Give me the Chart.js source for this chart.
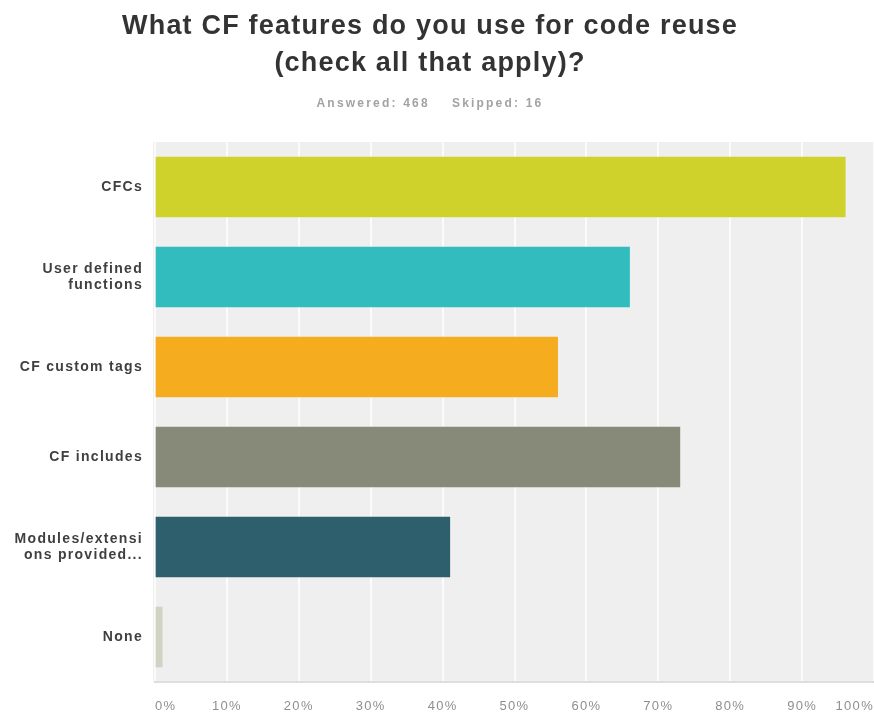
<!DOCTYPE html>
<html>
<head>
<meta charset="utf-8">
<script src="https://cdn.jsdelivr.net/npm/chart.js@4.4.1/dist/chart.umd.min.js"></script>
<style>
  html, body { margin: 0; padding: 0; background: #ffffff; }
  #wrap { width: 874px; height: 719px; position: relative; }
</style>
</head>
<body>
<div id="wrap"><canvas id="c" width="874" height="719"></canvas></div>
<script>
// Survey question and response counts
const titleLines = ['What CF features do you use for code reuse', '(check all that apply)?'];
const subtitleText = 'Answered: 468    Skipped: 16';

// Answer choices (multi-line labels as arrays)
const categories = [
  'CFCs',
  ['User defined', 'functions'],
  'CF custom tags',
  'CF includes',
  ['Modules/extensi', 'ons provided...'],
  'None'
];

// Share of respondents choosing each option (%)
const percentValues = [96, 66, 56, 73, 41, 1];

// Axis tick values (%)
const tickValues = [0, 10, 20, 30, 40, 50, 60, 70, 80, 90, 100];

const barColors = ['#cfd22a', '#33bcbd', '#f6ac1f', '#878979', '#2e5f6c', '#d3d3c3'];

const FONT = '"Liberation Sans", Arial, sans-serif';
const AXIS_TRACKING = '1.3px';

// Wider tracking for axis labels (context state is reset when the canvas is sized)
const axisTracking = {
  id: 'axisTracking',
  beforeLayout(chart) { chart.ctx.letterSpacing = AXIS_TRACKING; },
  beforeDraw(chart) { chart.ctx.letterSpacing = AXIS_TRACKING; }
};

// Plot background and heading text
const plotBackground = {
  id: 'plotBackground',
  beforeDraw(chart) {
    const { ctx, chartArea: a } = chart;
    ctx.save();
    ctx.fillStyle = '#efefef';
    ctx.fillRect(a.left - 2, a.top, a.right - a.left + 2, a.bottom - a.top);
    ctx.restore();
  },
  afterDraw(chart) {
    const { ctx } = chart;
    const cx = 430;
    ctx.save();
    ctx.textAlign = 'center';
    ctx.textBaseline = 'alphabetic';
    ctx.fillStyle = '#333333';
    ctx.letterSpacing = '1.2px';
    ctx.font = 'bold 27px ' + FONT;
    ctx.fillText(titleLines[0], cx, 34);
    ctx.fillText(titleLines[1], cx, 71);
    ctx.fillStyle = '#a2a2a2';
    ctx.letterSpacing = '2.2px';
    ctx.font = 'bold 12px ' + FONT;
    ctx.fillText(subtitleText, cx, 107);
    ctx.restore();
  }
};

new Chart(document.getElementById('c'), {
  type: 'bar',
  data: {
    labels: categories,
    datasets: [{
      data: percentValues,
      backgroundColor: barColors,
      borderWidth: 0,
      barThickness: 60
    }]
  },
  options: {
    indexAxis: 'y',
    responsive: false,
    animation: false,
    layout: { padding: { top: 142, left: 0, right: 0, bottom: 0 } },
    plugins: {
      legend: { display: false },
      tooltip: { enabled: false },
      title: { display: false }
    },
    scales: {
      x: {
        min: 0,
        max: 100,
        afterBuildTicks(scale) {
          scale.ticks = tickValues.map(v => ({ value: v }));
        },
        afterFit(scale) {
          scale.height = 37;
          scale.paddingLeft = 0;
          scale.paddingRight = 0;
        },
        grid: {
          color: '#fbfbfb',
          lineWidth: 2,
          drawTicks: false
        },
        border: { display: true, color: '#dedede', width: 2 },
        ticks: {
          align: 'inner',
          padding: 17,
          color: '#8f8f8f',
          font: { family: FONT, size: 13 },
          callback: v => v + '%'
        }
      },
      y: {
        afterFit(scale) {
          scale.width = 155;
          scale.paddingTop = 0;
          scale.paddingBottom = 0;
        },
        grid: { display: false, drawTicks: false },
        border: { display: false },
        ticks: {
          padding: 12,
          color: '#3f3f3f',
          font: { family: FONT, size: 14, weight: 'bold', lineHeight: 1.1 }
        }
      }
    }
  },
  plugins: [axisTracking, plotBackground]
});
</script>
</body>
</html>
